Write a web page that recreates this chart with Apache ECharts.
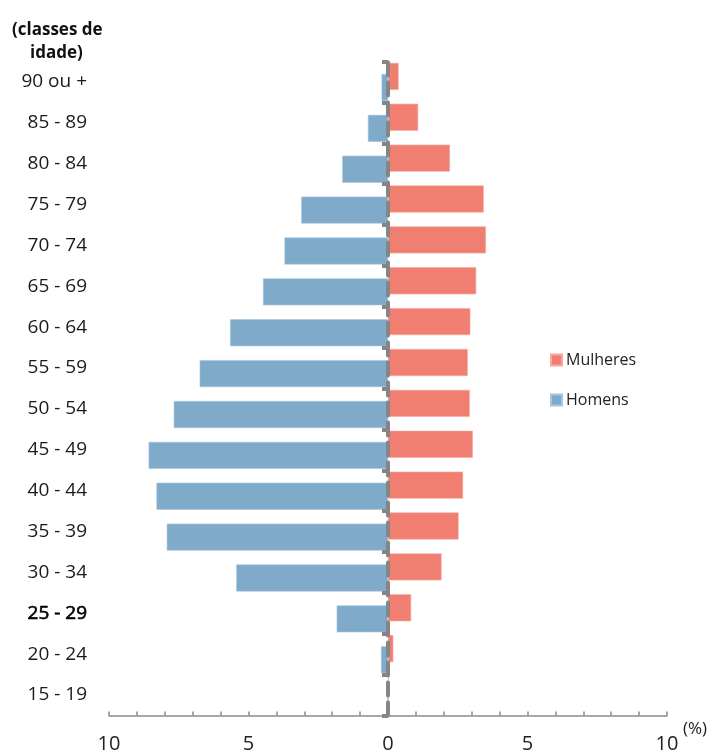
<!DOCTYPE html>
<html>
<head>
<meta charset="utf-8">
<script src="https://cdn.jsdelivr.net/npm/echarts@6/dist/echarts.min.js"></script>
<style>
html,body{margin:0;padding:0;background:#fff;}
#chart{width:719px;height:754px;}
</style>
</head>
<body>
<div id="chart"></div>
<script>
var categories = ['15 - 19','20 - 24','25 - 29','30 - 34','35 - 39','40 - 44','45 - 49','50 - 54','55 - 59','60 - 64','65 - 69','70 - 74','75 - 79','80 - 84','85 - 89','90 ou +'];
var homens = [0.03, 0.25, 1.84, 5.44, 7.93, 8.30, 8.58, 7.68, 6.75, 5.66, 4.48, 3.71, 3.11, 1.64, 0.72, 0.23];
var mulheres = [0.03, 0.19, 0.83, 1.92, 2.53, 2.69, 3.04, 2.93, 2.86, 2.95, 3.16, 3.51, 3.43, 2.22, 1.08, 0.38];
var xTickLabels = {'-10':'10','-5':'5','0':'0','5':'5','10':'10'};

var FONT = '"Open Sans", sans-serif';
var chart = echarts.init(document.getElementById('chart'));
chart.setOption({
  animation: false,
  backgroundColor: '#fff',
  textStyle: { fontFamily: FONT },
  grid: { left: 109, right: 52, top: 61.5, bottom: 38.5, containLabel: false, outerBoundsMode: 'none' },
  legend: {
    orient: 'vertical', left: 545, top: 347,
    itemWidth: 11, itemHeight: 11, itemGap: 24,
    icon: 'rect',
    data: ['Mulheres','Homens'],
    textStyle: { fontFamily: FONT, fontSize: 16, color: '#222', padding: [0,0,0,-1] }
  },
  graphic: [
    { type: 'text', left: 12, top: 22, style: { text: '(classes de', font: 'bold 17px ' + FONT, fill: '#111' } },
    { type: 'text', left: 30, top: 45, style: { text: 'idade)', font: 'bold 17px ' + FONT, fill: '#111' } },
    { type: 'text', left: 683, top: 721, style: { text: '(%)', font: '17px ' + FONT, fill: '#222' } }
  ],
  xAxis: {
    type: 'value', min: -10, max: 10, interval: 1,
    axisLine: { show: true, onZero: false, lineStyle: { color: '#8a8a8a', width: 1.5 } },
    axisTick: { show: true, inside: true, length: 4, lineStyle: { color: '#8a8a8a', width: 1.5 } },
    splitLine: { show: false },
    axisLabel: {
      margin: 19, fontSize: 20, color: '#222', fontFamily: FONT,
      formatter: function (v) { var k = String(Math.round(v)); return xTickLabels.hasOwnProperty(k) ? xTickLabels[k] : ''; }
    }
  },
  yAxis: [
    {
      type: 'category', data: categories, position: 'left',
      axisLine: { show: false, onZero: false },
      axisTick: { show: false },
      axisLabel: {
        margin: 22, fontSize: 19, color: '#1a1a1a', fontFamily: FONT,
        formatter: function (v) { return v === '25 - 29' ? '{b|' + v + '}' : v; },
        rich: { b: { fontSize: 19, color: '#000', fontFamily: FONT, textBorderColor: '#000', textBorderWidth: 0.6 } }
      }
    },
    {
      type: 'category', data: categories, position: 'left', z: 10,
      axisLine: { show: true, onZero: true, lineStyle: { color: '#858585', width: 4, type: [13, 7] } },
      axisTick: { show: true, length: 6, lineStyle: { color: '#858585', width: 4 } },
      axisLabel: { show: false }
    }
  ],
  series: [
    {
      name: 'Mulheres', type: 'bar', yAxisIndex: 0,
      data: mulheres,
      barWidth: 27, barGap: '-59%',
      itemStyle: { color: '#F07E71', borderColor: '#F6A89F', borderWidth: 0.6 },
      z: 2
    },
    {
      name: 'Homens', type: 'bar', yAxisIndex: 0,
      data: homens.map(function (v) { return -v; }),
      barWidth: 27, barGap: '-59%',
      itemStyle: { color: '#7FAACA', borderColor: '#A9C6DC', borderWidth: 0.6 },
      z: 2
    }
  ]
});
</script>
</body>
</html>
